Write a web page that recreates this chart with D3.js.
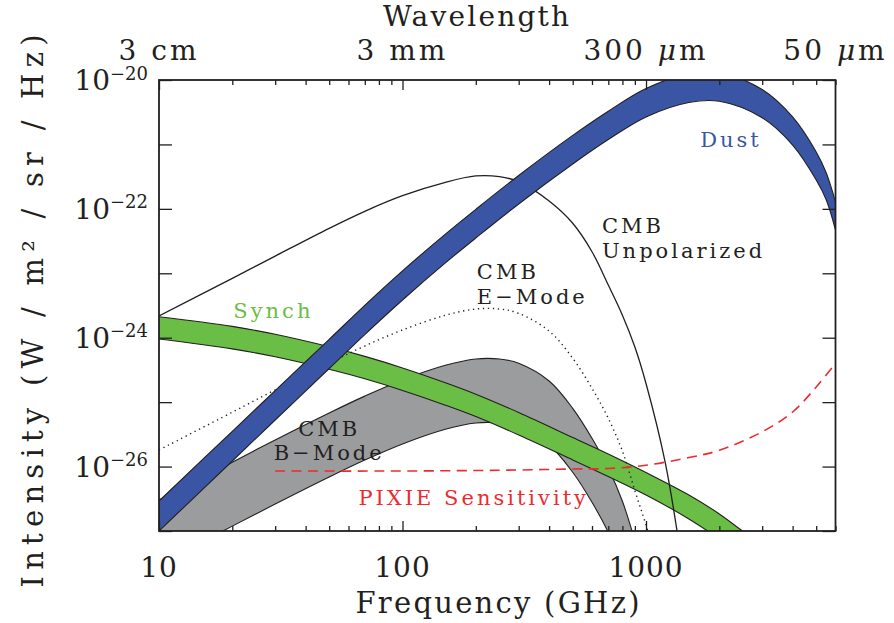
<!doctype html>
<html lang="en">
<head>
<meta charset="UTF-8">
<title>Foreground spectra</title>
<style>
body { margin: 0; background: #fff; }
svg text { font-family: 'DejaVu Serif', serif; fill: #231f20; }
</style>
</head>
<body>
<svg width="894" height="623"></svg>
<script src="https://cdn.jsdelivr.net/npm/d3@7"></script>
<script>
// CMB unpolarized (W / m^2 / sr / Hz) vs frequency (GHz)
var nuCmb = [10, 20, 30, 50, 70, 100, 150, 200, 250, 300, 400, 500, 600, 700, 800, 900, 1000, 1200, 1400];
var cmbUnpol = [2.17e-24, 8.36e-24, 1.85e-23, 4.99e-23, 9.16e-23, 1.60e-22, 2.58e-22, 3.24e-22, 3.16e-22, 2.64e-22,
    1.32e-22, 5.97e-23, 2.16e-23, 6.58e-24, 2.24e-24, 7.18e-25, 1.95e-25, 1.14e-26, 3.43e-28];

// CMB E-mode (dotted)
var nuE = [10, 20, 30, 50, 70, 100, 150, 200, 250, 300, 400, 500, 600, 700, 800, 900, 1000, 1100];
var eMode = [1.81e-26, 6.98e-26, 1.55e-25, 4.06e-25, 7.43e-25, 1.32e-24, 2.23e-24, 2.79e-24, 2.79e-24, 2.39e-24,
    1.27e-24, 4.80e-25, 1.64e-25, 5.61e-26, 1.73e-26, 4.23e-27, 1.24e-27, 3.68e-28];

// CMB B-mode band (upper / lower)
var nuB = [10, 20, 30, 50, 70, 100, 150, 200, 250, 300, 400, 500, 600, 700, 800, 900];
var bHigh = [3.03e-27, 1.17e-26, 2.59e-26, 6.79e-26, 1.24e-25, 2.21e-25, 3.73e-25, 4.68e-25, 4.68e-25, 4.01e-25,
    2.13e-25, 8.02e-26, 2.75e-26, 9.40e-27, 2.89e-27, 7.08e-28];
var bLow = [3.08e-28, 1.19e-27, 2.62e-27, 6.89e-27, 1.26e-26, 2.24e-26, 3.79e-26, 4.74e-26, 4.74e-26, 4.07e-26,
    2.16e-26, 8.15e-27, 2.79e-27, 9.55e-28, 2.94e-28, 7.18e-29];

// synchrotron band
var nuSynch = [10, 20, 30, 50, 70, 100, 150, 200, 300, 500, 700, 1000, 1500, 2000, 2500, 3000];
var synchHigh = [2.12e-24, 1.50e-24, 1.13e-24, 7.23e-25, 5.13e-25, 3.40e-25, 2.00e-25, 1.33e-25, 6.91e-26, 2.83e-26,
    1.57e-26, 8.09e-27, 3.62e-27, 1.84e-27, 9.83e-28, 5.65e-28];
var synchLow = [9.55e-25, 6.71e-25, 5.06e-25, 3.23e-25, 2.30e-25, 1.52e-25, 8.97e-26, 5.97e-26, 3.09e-26, 1.27e-26,
    7.01e-27, 3.62e-27, 1.54e-27, 7.52e-28, 4.02e-28, 2.31e-28];

// dust band
var nuDust = [10, 20, 30, 50, 70, 100, 150, 200, 300, 500, 700, 1000, 1500, 2000, 3000, 4000, 5000, 5500, 6000];
var dustHigh = [2.92e-27, 3.53e-26, 1.51e-25, 9.44e-25, 3.18e-24, 1.09e-23, 4.06e-23, 9.84e-23, 3.30e-22, 1.38e-21,
    3.28e-21, 7.36e-21, 1.26e-20, 1.29e-20, 7.13e-21, 2.67e-21, 7.64e-22, 3.61e-22, 1.28e-22];
var dustLow = [1.00e-27, 1.22e-26, 5.28e-26, 3.33e-25, 1.12e-24, 3.85e-24, 1.45e-23, 3.53e-23, 1.19e-22, 4.97e-22,
    1.19e-21, 2.67e-21, 4.48e-21, 4.67e-21, 2.59e-21, 9.79e-22, 2.81e-22, 1.37e-22, 4.70e-23];

// PIXIE sensitivity (dashed)
var nuPixie = [30, 100, 200, 300, 500, 700, 1000, 1500, 2000, 3000, 4000, 5000, 6000];
var pixie = [8.53e-27, 8.53e-27, 8.69e-27, 8.85e-27, 9.17e-27, 9.33e-27, 1.05e-26, 1.38e-26, 1.79e-26, 3.47e-26,
    7.03e-26, 1.72e-25, 3.98e-25];

// ticks
var freqMajor = [10, 100, 1000];
var freqMinor = [20, 30, 40, 50, 60, 70, 80, 90, 200, 300, 400, 500, 600, 700, 800, 900, 2000, 3000, 4000, 5000, 6000];
var decades = [-27, -26, -25, -24, -23, -22, -21, -20];
var labelExp = [-20, -22, -24, -26];
var wlNu = [10, 100, 1000, 6000];
var wlText = ['3 cm', '3 mm', '300 μm', '50 μm'];

// in-plot labels (anchor in data units)
var noteLines = [['Dust'], ['CMB', 'Unpolarized'], ['CMB', 'E−Mode'], ['Synch'], ['CMB', 'B−Mode'], ['PIXIE Sensitivity']];
var noteNu = [1670, 659, 202, 20.2, 50, 65.9];
var noteVal = [9.1e-22, 4.2e-23, 8.15e-24, 2.0e-24, 2.99e-26, 2.54e-27];

var ink = '#231f20';
var blue = '#3a55a4';
var green = '#6abd45';
var gray = '#9b9c9e';
var red = '#ee2a2f';

var svg = d3.select('svg');
var plotL = 159, plotR = 835.5, plotT = 80, plotB = 531;

var x = d3.scaleLog().domain([10, 6000]).range([plotL, plotR]);
var y = d3.scaleLog().domain([1e-27, 1e-20]).range([plotB, plotT]);

svg.append('defs').append('clipPath')
    .attr('id', 'plot-clip')
    .append('rect')
    .attr('x', plotL)
    .attr('y', plotT)
    .attr('width', plotR - plotL)
    .attr('height', plotB - plotT);

var plot = svg.append('g').attr('clip-path', 'url(#plot-clip)');

function zip(nu, vals) {
    return nu.map(function(d, i) { return [d, vals[i]]; });
}

var smooth = d3.curveCatmullRom.alpha(0.5);

var line = d3.line()
    .x(function(d) { return x(d[0]); })
    .y(function(d) { return y(d[1]); })
    .curve(smooth);

function drawBand(nu, hi, lo, fill) {
    var pts = nu.map(function(d, i) { return [d, hi[i], lo[i]]; });
    var area = d3.area()
        .x(function(d) { return x(d[0]); })
        .y0(function(d) { return y(d[2]); })
        .y1(function(d) { return y(d[1]); })
        .curve(smooth);
    var grp = plot.append('g');
    grp.append('path').attr('d', area(pts)).attr('fill', fill);
    grp.append('path').attr('d', line(zip(nu, hi)))
        .attr('fill', 'none').attr('stroke', ink).attr('stroke-width', 1.1);
    grp.append('path').attr('d', line(zip(nu, lo)))
        .attr('fill', 'none').attr('stroke', ink).attr('stroke-width', 1.1);
}

// layers, back to front
drawBand(nuB, bHigh, bLow, gray);
drawBand(nuSynch, synchHigh, synchLow, green);

plot.append('path')
    .attr('d', line(zip(nuCmb, cmbUnpol)))
    .attr('fill', 'none')
    .attr('stroke', ink)
    .attr('stroke-width', 1.3);

plot.append('path')
    .attr('d', line(zip(nuE, eMode)))
    .attr('fill', 'none')
    .attr('stroke', ink)
    .attr('stroke-width', 1.4)
    .attr('stroke-dasharray', '1.3,3.7');

drawBand(nuDust, dustHigh, dustLow, blue);

plot.append('path')
    .attr('d', line(zip(nuPixie, pixie)))
    .attr('fill', 'none')
    .attr('stroke', red)
    .attr('stroke-width', 1.6)
    .attr('stroke-dasharray', '10,6.5');

// ticks on all four sides, pointing inward
function ticks(axis, values, size, transform) {
    svg.append('g')
        .attr('transform', transform)
        .attr('color', ink)
        .attr('stroke-width', 1.3)
        .call(axis.tickValues(values).tickSize(-size).tickFormat(''))
        .call(function(g) { g.select('.domain').remove(); });
}
ticks(d3.axisBottom(x), freqMajor, 10, 'translate(0,' + plotB + ')');
ticks(d3.axisBottom(x), freqMinor, 5, 'translate(0,' + plotB + ')');
ticks(d3.axisTop(x), freqMajor, 10, 'translate(0,' + plotT + ')');
ticks(d3.axisTop(x), freqMinor, 5, 'translate(0,' + plotT + ')');
var decadeVals = decades.map(function(e) { return Math.pow(10, e); });
ticks(d3.axisLeft(y), decadeVals, 13, 'translate(' + plotL + ',0)');
ticks(d3.axisRight(y), decadeVals, 13, 'translate(' + plotR + ',0)');

svg.append('rect')
    .attr('x', plotL)
    .attr('y', plotT)
    .attr('width', plotR - plotL)
    .attr('height', plotB - plotT)
    .attr('fill', 'none')
    .attr('stroke', ink)
    .attr('stroke-width', 1.8);

// bottom tick labels
svg.append('g').selectAll('text')
    .data(freqMajor)
    .enter()
    .append('text')
    .attr('x', function(d) { return x(d); })
    .attr('y', 577)
    .attr('text-anchor', 'middle')
    .style('font-size', '28px')
    .style('letter-spacing', '1px')
    .text(function(d) { return d; });

// left tick labels 10^n
var yl = svg.append('g').selectAll('text')
    .data(labelExp)
    .enter()
    .append('text')
    .attr('x', 148)
    .attr('y', function(d) { return y(Math.pow(10, d)) + 10; })
    .attr('text-anchor', 'end')
    .style('font-size', '28px');
yl.append('tspan').text('10');
yl.append('tspan')
    .attr('dy', -10.5)
    .style('font-size', '18px')
    .text(function(d) { return '−' + Math.abs(d); });

// top wavelength labels
var tl = svg.append('g').selectAll('text')
    .data(wlNu)
    .enter()
    .append('text')
    .attr('x', function(d) { return x(d); })
    .attr('y', 60)
    .attr('text-anchor', 'middle')
    .style('font-size', '28px')
    .style('letter-spacing', '3px');
tl.each(function(d, i) {
    var parts = wlText[i].split('μ');
    var t = d3.select(this);
    t.append('tspan').text(parts[0]);
    if (parts.length > 1) {
        t.append('tspan').style('font-style', 'italic').text('μ');
        t.append('tspan').text(parts[1]);
    }
});

// axis titles
svg.append('text')
    .attr('x', 476)
    .attr('y', 26)
    .attr('text-anchor', 'middle')
    .attr('textLength', 186)
    .attr('lengthAdjust', 'spacing')
    .style('font-size', '28px')
    .text('Wavelength');

svg.append('text')
    .attr('x', 497.5)
    .attr('y', 613)
    .attr('text-anchor', 'middle')
    .attr('textLength', 284)
    .attr('lengthAdjust', 'spacing')
    .style('font-size', '29px')
    .text('Frequency (GHz)');

svg.append('text')
    .attr('transform', 'translate(43,311) rotate(-90)')
    .attr('text-anchor', 'middle')
    .attr('textLength', 553)
    .attr('lengthAdjust', 'spacing')
    .style('font-size', '29px')
    .text('Intensity (W / m² / sr / Hz)');

// in-plot labels
var noteColor = [blue, ink, ink, green, ink, red];
var noteAnchor = ['start', 'start', 'start', 'start', 'middle', 'start'];
noteLines.forEach(function(lines, i) {
    var t = svg.append('text')
        .attr('text-anchor', noteAnchor[i])
        .style('font-size', '21px')
        .style('letter-spacing', '3px')
        .style('fill', noteColor[i]);
    lines.forEach(function(s, j) {
        t.append('tspan')
            .attr('x', x(noteNu[i]))
            .attr('y', y(noteVal[i]) + j * 24.5)
            .text(s);
    });
});
</script>
</body>
</html>
